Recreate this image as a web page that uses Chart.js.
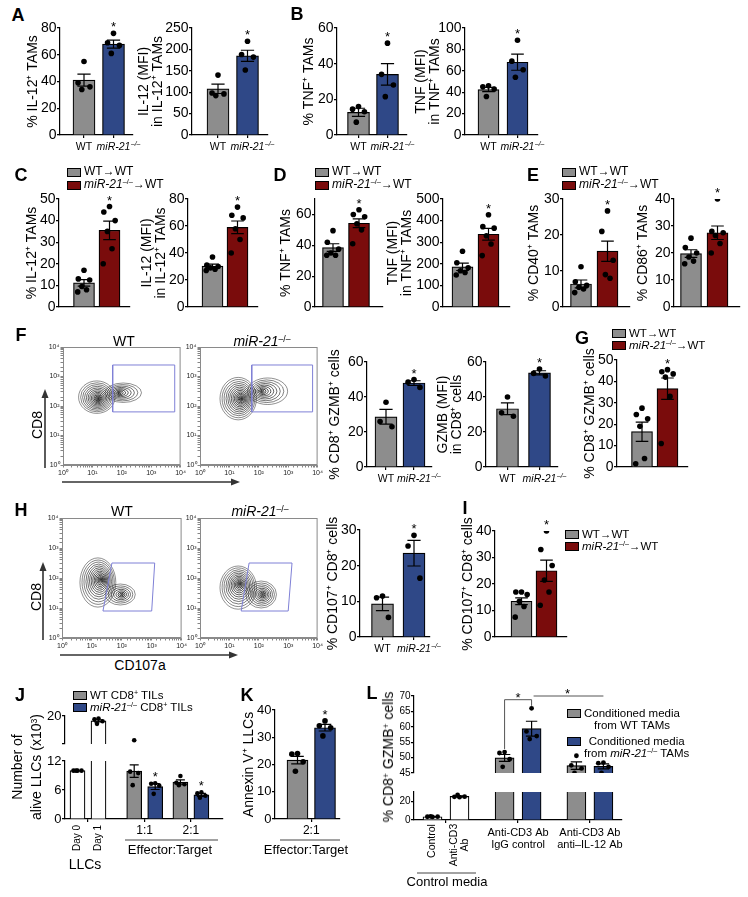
<!DOCTYPE html>
<html>
<head>
<meta charset="utf-8">
<title>miR-21 TAM figure</title>
<script src="https://cdn.jsdelivr.net/npm/chart.js@4.4.1/dist/chart.umd.min.js"></script>
<style>
  html, body { margin: 0; padding: 0; background: #fff; }
  #fig { position: relative; width: 748px; height: 897px; overflow: hidden; font-family: 'Liberation Sans', Arial, sans-serif; color: #000; }
  #fig canvas { position: absolute; }
  .tx { position: absolute; white-space: nowrap; line-height: 1.15; transform: translate(-50%, -50%); text-align: center; }
  .tx.rot { transform: translate(-50%, -50%) rotate(-90deg); }
  .letter { font-weight: bold; font-size: 18px; }
  .sp { font-size: 0.62em; vertical-align: 0.5em; line-height: 0; }
  .leg { position: absolute; white-space: nowrap; line-height: 1.1; }
  .leg .sw { position: absolute; left: 0; top: -4.5px; width: 14px; height: 9px; box-sizing: border-box; border: 1px solid #000; }
  .leg .lt { position: absolute; left: 17px; top: -0.56em; text-align: center; }
  svg { position: absolute; left: 0; top: 0; }
</style>
</head>
<body>
<div id="fig"></div>
<script>
const FONT = "'Liberation Sans', Arial, Helvetica, sans-serif";
Chart.defaults.font.family = FONT;
Chart.defaults.color = '#000';

const GRAY = '#8d8d8d';
const BLUE = '#2f4887';
const RED = '#7a0c0c';
const WHITE = '#ffffff';

// ---------- data ----------
const genotypes = ['WT', 'miR-21'];   // second label gets a "–/–" superscript

// A
const a1Ticks = [0, 20, 40, 60, 80];
const a1Mean = [41, 68];
const a1Sem = [4.5, 3];
const a1Pts = [[55, 39, 36, 34], [76, 69, 67, 61]];

const a2Ticks = [0, 50, 100, 150, 200, 250];
const a2Mean = [108, 185];
const a2Sem = [11, 13];
const a2Pts = [[140, 98, 96, 92], [219, 188, 182, 152]];

// B
const b1Ticks = [0, 20, 40, 60];
const b1Mean = [12.7, 34];
const b1Sem = [2.3, 6];
const b1Pts = [[16, 14.5, 13, 7.2], [51.5, 34, 28, 21.5]];

const b2Ticks = [0, 20, 40, 60, 80, 100];
const b2Mean = [42.5, 68];
const b2Sem = [2, 7.5];
const b2Pts = [[46, 45, 43, 36], [88.5, 69, 61, 54]];

// C
const c1Ticks = [0, 10, 20, 30, 40, 50];
const c1Mean = [11.2, 35.5];
const c1Sem = [1.5, 4.3];
const c1Pts = [[17, 13, 12.5, 9.5, 8, 7], [46.5, 44, 40, 35, 27, 20]];

const c2Ticks = [0, 20, 40, 60, 80];
const c2Mean = [30.3, 59];
const c2Sem = [1.5, 4.7];
const c2Pts = [[37, 31, 30, 29, 28, 27], [74, 68, 66, 58, 50, 40]];

// D
const d1Ticks = [0, 10, 20, 30, 40, 50, 60, 70];
const d1Mean = [38.5, 54.3];
const d1Sem = [2.5, 2.8];
const d1Pts = [[49.5, 42, 37.5, 35, 33.5, 33.5], [63, 60, 58.5, 54, 50, 41]];

const d2Ticks = [0, 100, 200, 300, 400, 500];
const d2Mean = [186, 337];
const d2Sem = [17, 27];
const d2Pts = [[258, 205, 182, 168, 160, 148], [427, 372, 365, 330, 292, 238]];

// E
const e1Ticks = [0, 10, 20, 30];
const e1Mean = [6.4, 15.5];
const e1Sem = [1.1, 2.8];
const e1Pts = [[11.2, 7, 6, 5.5, 5, 4], [26.7, 21, 13, 9, 8]];

const e2Ticks = [0, 10, 20, 30, 40];
const e2Mean = [19.8, 27.5];
const e2Sem = [1.4, 2.5];
const e2Pts = [[25.5, 22, 20, 18.5, 17, 16], [40, 28, 27.5, 26.5, 23.5, 20]];

// F / H flow plots, all in log10 units
const flowDecades = ['10⁰', '10¹', '10²', '10³', '10⁴'];
const fGateWT = [[1.69, 1.8], [3.8, 1.8], [3.8, 3.39], [1.69, 3.39]];
const fGateKO = [[1.76, 1.8], [3.83, 1.8], [3.83, 3.39], [1.76, 3.39]];
const hGateWT = [[1.37, 0.9], [3.0, 0.9], [3.1, 2.5], [1.67, 2.5]];
const hGateKO = [[1.4, 0.9], [3.0, 0.9], [3.13, 2.5], [1.67, 2.5]];
// [centre x, centre y, half width, half height, levels, core shift x, core shift y]
const fBlobsWT = [[1.15, 2.3, 0.62, 0.55, 14, 0.05, -0.05], [2.05, 2.45, 0.62, 0.33, 9, -0.15, 0]];
const fBlobsKO = [[1.3, 2.25, 0.62, 0.72, 15, 0.1, 0], [2.3, 2.5, 0.68, 0.45, 10, -0.2, 0]];
const hBlobsWT = [[1.2, 1.85, 0.6, 0.82, 15, 0.1, 0.1], [1.95, 1.45, 0.5, 0.35, 8, 0.05, 0]];
const hBlobsKO = [[1.3, 1.68, 0.62, 0.72, 14, 0.05, 0.12], [2.08, 1.45, 0.52, 0.45, 10, 0.05, 0]];

const f3Ticks = [0, 20, 40, 60];
const f3Mean = [28.7, 48];
const f3Sem = [4.2, 1.3];
const f3Pts = [[37, 26, 23], [50, 48.5, 45.5]];

const f4Ticks = [0, 20, 40, 60];
const f4Mean = [33.3, 53.8];
const f4Sem = [3.4, 1.2];
const f4Pts = [[40, 31, 29], [56, 53.5, 52]];

const gTicks = [0, 10, 20, 30, 40, 50];
const gMean = [16.5, 36.6];
const gSem = [4.5, 5];
const gPts = [[27.5, 24.5, 22.5, 19, 4, 1.5], [45.5, 44.5, 43.5, 42, 33, 11]];

const hTicks = [0, 10, 20, 30];
const hMean = [9.3, 23.5];
const hSem = [1.9, 3.6];
const hPts = [[11.5, 11, 5.5], [28.5, 25.5, 16.5]];

const iTicks = [0, 10, 20, 30, 40];
const iMean = [13.5, 25];
const iSem = [1.3, 4];
const iPts = [[17, 17, 16, 13.5, 11.5, 7.5], [40, 33, 27, 21.5, 17, 12]];

// J: LLC killing (x10^3), Day 0, Day 1, 1:1 WT/KO, 2:1 WT/KO
const jLabels = ['Day 0', 'Day 1', '1:1', '2:1'];
const jLowTicks = [0, 3, 6, 9, 12];
const jHighTicks = [15, 20];
const jBreak = 12.5;
const jMean = [10, 18.7, 9.9, 6.7, 7.65, 5.0];
const jSem = [0, 0.3, 1.3, 0.6, 0.45, 0.3];
const jPts = [[10, 10, 10, 10], [19.3, 19.1, 18.6, 17.9], [13.5, 9.8, 9.5, 7], [7.4, 7.3, 6.9, 5.2], [8.9, 7.5, 7.2, 7], [5.5, 5.3, 4.8, 4.4]];

// K
const kTicks = [0, 10, 20, 30, 40];
const kMean = [21.6, 33.5];
const kSem = [1.4, 1.2];
const kPts = [[24, 23.8, 21, 17.5], [36, 34.2, 33.5, 30.5]];

// L
const lLowTicks = [0, 10, 20, 30];
const lHighTicks = [45, 50, 55, 60, 65, 70];
const lMean = [3.5, 25.3, 49.9, 59.4, 47.4, 47.15];
const lSem = [0.15, 0.5, 1.1, 2.4, 1.2, 0.8];
const lPts = [[3.3, 3.5, 3.6, 3.9], [24.5, 24.8, 25, 26.8], [51.8, 51.5, 49.5, 47], [66, 58.5, 57, 56], [50.6, 47.5, 46.5, 45], [48.4, 48.2, 47, 45]];
const lSig = [[2, 3, 68.8, true], [3, 5, 70, false]];

// ---------- drawing helpers ----------
const fig = document.getElementById('fig');
const JIT = [0, -0.27, 0.27, -0.1, 0.12, -0.3];
const TITLE = 14;

function canvasAt(x0, y0, x1, y1) {
  const cv = document.createElement('canvas');
  cv.width = Math.round(x1 - x0);
  cv.height = Math.round(y1 - y0);
  cv.style.left = x0 + 'px';
  cv.style.top = y0 + 'px';
  fig.appendChild(cv);
  return cv;
}

function barMarks(p, xs) {
  return {
    id: 'barMarks',
    afterDatasetsDraw(chart) {
      const { ctx, chartArea: a, scales: { x, y } } = chart;
      const room = p.starRoom === undefined ? 16 : p.starRoom;
      ctx.save();
      ctx.beginPath();
      ctx.rect(a.left - 30, a.top - room, a.right - a.left + 60, a.bottom - a.top + room);
      ctx.clip();
      ctx.strokeStyle = '#000';
      ctx.lineWidth = 1.2;
      p.mean.forEach((m, i) => {
        const s = p.sem[i];
        if (!s) return;
        const cx = x.getPixelForValue(xs[i]);
        const hw = p.bw * 0.3;
        const hi = y.getPixelForValue(m + s), lo = y.getPixelForValue(m - s);
        ctx.beginPath();
        ctx.moveTo(cx, hi); ctx.lineTo(cx, lo);
        ctx.moveTo(cx - hw, hi); ctx.lineTo(cx + hw, hi);
        ctx.moveTo(cx - hw, lo); ctx.lineTo(cx + hw, lo);
        ctx.stroke();
      });
      ctx.fillStyle = '#000';
      ctx.textAlign = 'center';
      ctx.textBaseline = 'alphabetic';
      ctx.font = '13px ' + FONT;
      (p.stars || []).forEach(i => {
        const top = Math.max(p.mean[i] + p.sem[i], ...p.pts[i]);
        ctx.fillText('*', x.getPixelForValue(xs[i]), y.getPixelForValue(top) - 2);
      });
      (p.sig || []).forEach(([i, j, level, legs]) => {
        const xi = x.getPixelForValue(xs[i]), xj = x.getPixelForValue(xs[j]);
        const py = y.getPixelForValue(level);
        ctx.strokeStyle = '#555';
        ctx.lineWidth = 1;
        ctx.beginPath();
        if (legs) {
          ctx.moveTo(xi, y.getPixelForValue(Math.max(...p.pts[i]) + 1));
          ctx.lineTo(xi, py); ctx.lineTo(xj, py);
          ctx.lineTo(xj, y.getPixelForValue(Math.max(...p.pts[j]) + 0.8));
        } else {
          ctx.moveTo(xi + 2, py); ctx.lineTo(xj, py);
        }
        ctx.stroke();
        ctx.fillText('*', (xi + xj) / 2, py + 2);
      });
      ctx.restore();
    },
    afterDraw(chart) {
      // category labels under the x axis (some rotated, some with a superscript)
      const { ctx, chartArea: a, scales: { x } } = chart;
      (p.catText || []).forEach(c => {
        const size = c.size || 11;
        const lh = size * 1.1;
        ctx.save();
        ctx.fillStyle = '#000';
        ctx.font = (c.italic ? 'italic ' : '') + size + 'px ' + FONT;
        ctx.textAlign = 'center';
        ctx.textBaseline = 'middle';
        const cx = x.getPixelForValue(c.at), cy = a.bottom + c.dy;
        c.lines.forEach((line, k) => {
          if (c.rot) {
            const off = (k - (c.lines.length - 1) / 2) * lh;
            ctx.save();
            ctx.translate(cx + off, cy);
            ctx.rotate(-Math.PI / 2);
            ctx.fillText(line, 0, 0);
            ctx.restore();
          } else {
            ctx.fillText(line, cx, cy + k * lh);
          }
        });
        if (c.sup) {
          const w = ctx.measureText(c.lines[0]).width;
          ctx.font = (c.italic ? 'italic ' : '') + (size * 0.65) + 'px ' + FONT;
          ctx.textAlign = 'left';
          ctx.fillText(c.sup, cx + w / 2 + 0.5, cy - size * 0.3);
        }
        ctx.restore();
      });
    }
  };
}

function bars(p) {
  const [l, t, r, b] = p.plot;
  const xs = p.xPos || [0, 1];
  const titleLines = p.title || [];
  const x0 = Math.round(p.x0 !== undefined ? p.x0 : p.titleX - titleLines.length * TITLE / 2);
  const y0 = t - 16;
  const hasX = p.xAxis !== false;
  const y1 = hasX ? b + (p.xHeight || 24) : b + 8;
  const x1 = r + 28;
  const cv = canvasAt(x0, y0, x1, y1);
  const dots = [];
  p.pts.forEach((g, i) => g.forEach((v, k) => dots.push({ x: xs[i] + JIT[k] * p.bw / p.dx, y: v })));
  const yTicks = p.yMin !== undefined ? [p.yMin].concat(p.ticks) : p.ticks;
  new Chart(cv, {
    type: 'bar',
    data: {
      datasets: [
        { type: 'bar', data: p.mean.map((m, i) => ({ x: xs[i], y: m })), backgroundColor: p.colors,
          borderColor: '#000', borderWidth: 1.2, barThickness: p.bw, order: 2 },
        { type: 'scatter', data: dots, pointRadius: p.dot || 2.8, pointBackgroundColor: '#000',
          pointBorderWidth: 0, order: 1 }
      ]
    },
    options: {
      responsive: false, animation: false, events: [],
      layout: { padding: { top: t - y0, right: x1 - r, left: 0, bottom: hasX ? 0 : y1 - b } },
      plugins: { legend: { display: false }, tooltip: { enabled: false } },
      scales: {
        x: {
          type: 'linear', display: hasX, offset: false,
          min: (l - p.c0) / p.dx, max: (r - p.c0) / p.dx,
          afterBuildTicks: s => { s.ticks = (p.xTicks || xs).map(v => ({ value: v })); },
          afterFit: s => { s.height = y1 - b; },
          grid: { offset: false, drawOnChartArea: false, drawTicks: p.xMarks !== false, tickLength: 3, color: '#000', lineWidth: 1.2 },
          border: { color: '#000', width: 1.2 },
          ticks: { display: false }
        },
        y: {
          min: yTicks[0], max: yTicks[yTicks.length - 1],
          afterBuildTicks: s => { s.ticks = yTicks.map(v => ({ value: v })); },
          afterFit: s => { s.width = l - x0; },
          grid: { drawOnChartArea: false, tickLength: 3, color: '#000', lineWidth: 1.2 },
          border: { color: '#000', width: 1.2 },
          ticks: { padding: 0.5, color: '#000', font: { family: FONT, size: p.tickSize || 14 },
                   callback: v => p.ticks.includes(v) ? String(v) : '' },
          title: { display: titleLines.length > 0, text: titleLines, padding: 0, color: '#000',
                   font: { family: FONT, size: p.titleSize || TITLE, lineHeight: 1.0 } }
        }
      }
    },
    plugins: [barMarks(p, xs)]
  });
}

function contours(blobs) {
  return {
    id: 'contours',
    beforeDatasetsDraw(chart) {
      const { ctx, scales: { x, y } } = chart;
      ctx.save();
      ctx.lineWidth = 0.8;
      blobs.forEach(([cx, cy, rx, ry, n, sx, sy]) => {
        for (let k = n; k >= 1; k--) {
          const f = Math.pow(k / n, 1.5);
          const ex = cx + (1 - f) * sx, ey = cy + (1 - f) * sy;
          const px = x.getPixelForValue(Math.pow(10, ex)), py = y.getPixelForValue(Math.pow(10, ey));
          const ax = x.getPixelForValue(Math.pow(10, ex + rx * f)) - px;
          const ay = py - y.getPixelForValue(Math.pow(10, ey + ry * f));
          ctx.strokeStyle = 'rgba(0,0,0,' + (0.55 + 0.45 * (1 - f)) + ')';
          ctx.beginPath();
          ctx.ellipse(px, py, ax, ay, 0, 0, Math.PI * 2);
          ctx.stroke();
        }
      });
      ctx.restore();
    },
    afterDraw(chart) {
      const { ctx, chartArea: a } = chart;
      ctx.save();
      ctx.strokeStyle = '#8a8a8a';
      ctx.lineWidth = 1;
      ctx.strokeRect(a.left + 0.5, a.top + 0.5, a.right - a.left - 1, a.bottom - a.top - 1);
      ctx.restore();
    }
  };
}

function flow(p) {
  const [l, t, r, b] = p.plot;
  const x0 = l - 19, y0 = t - 7, x1 = r + 6, y1 = b + 15;
  const cv = canvasAt(x0, y0, x1, y1);
  const axis = isX => ({
    type: 'logarithmic', min: 1, max: 10000,
    afterFit: s => { if (isX) s.height = y1 - b; else s.width = l - x0; },
    grid: { drawOnChartArea: false, tickLength: 2.5, color: '#666', lineWidth: 0.8 },
    border: { color: '#8a8a8a', width: 1 },
    ticks: {
      autoSkip: false, maxRotation: 0, minRotation: 0, padding: 1, color: '#222',
      font: { family: FONT, size: 7 },
      callback: v => {
        const e = Math.log10(v);
        return Math.abs(e - Math.round(e)) < 1e-6 ? flowDecades[Math.round(e)] : '';
      }
    }
  });
  const gate = p.gate.concat([p.gate[0]]).map(([gx, gy]) => ({ x: Math.pow(10, gx), y: Math.pow(10, gy) }));
  new Chart(cv, {
    type: 'scatter',
    data: { datasets: [{ data: gate, showLine: true, borderColor: '#7f80d6', borderWidth: 1, pointRadius: 0, fill: false }] },
    options: {
      responsive: false, animation: false, events: [],
      layout: { padding: { top: t - y0, right: x1 - r, left: 0, bottom: 0 } },
      plugins: { legend: { display: false }, tooltip: { enabled: false } },
      scales: { x: axis(true), y: axis(false) }
    },
    plugins: [contours(p.blobs)]
  });
}

function text(x, y, html, style, cls) {
  const d = document.createElement('div');
  d.className = 'tx' + (cls ? ' ' + cls : '');
  d.innerHTML = html;
  d.style.left = x + 'px';
  d.style.top = y + 'px';
  if (style) d.style.cssText += ';' + style;
  fig.appendChild(d);
}

function legend(x, y, rows, step, size, lineH) {
  rows.forEach(([color, html], i) => {
    const d = document.createElement('div');
    d.className = 'leg';
    d.style.left = x + 'px';
    d.style.top = (y + i * step) + 'px';
    d.style.fontSize = size + 'px';
    if (lineH) d.style.lineHeight = lineH;
    d.innerHTML = '<span class="sw" style="background:' + color + '"></span><span class="lt">' + html + '</span>';
    fig.appendChild(d);
  });
}

// ---------- panels ----------
const genoText = [
  { at: 0, lines: [genotypes[0]], dy: 12, size: 10.5 },
  { at: 1, lines: [genotypes[1]], sup: '–/–', italic: true, dy: 12, size: 10.5 }
];
const geno = { catText: genoText };
const noX = { xMarks: false, xHeight: 22 };

bars({ ...geno, plot: [60, 28, 133, 135], c0: 84, dx: 29.5, bw: 22, ticks: a1Ticks, mean: a1Mean, sem: a1Sem, pts: a1Pts,
  colors: [GRAY, BLUE], title: ['% IL-12⁺ TAMs'], titleX: 33, stars: [1] });
bars({ ...geno, plot: [192, 28, 268, 135], c0: 218, dx: 29.5, bw: 22, ticks: a2Ticks, mean: a2Mean, sem: a2Sem, pts: a2Pts,
  colors: [GRAY, BLUE], title: ['IL-12 (MFI)', 'in IL-12⁺ TAMs'], titleX: 151, stars: [1] });
bars({ ...geno, plot: [337, 28, 407, 135], c0: 358.5, dx: 29, bw: 22, ticks: b1Ticks, mean: b1Mean, sem: b1Sem, pts: b1Pts,
  colors: [GRAY, BLUE], title: ['% TNF⁺ TAMs'], titleX: 309, stars: [1] });
bars({ ...geno, plot: [465, 28, 538, 135], c0: 488.5, dx: 29, bw: 21, ticks: b2Ticks, mean: b2Mean, sem: b2Sem, pts: b2Pts,
  colors: [GRAY, BLUE], title: ['TNF (MFI)', 'in TNF⁺ TAMs'], titleX: 428, stars: [1] });

bars({ ...noX, plot: [59, 199, 130, 307], c0: 84, dx: 25.5, bw: 21, ticks: c1Ticks, mean: c1Mean, sem: c1Sem, pts: c1Pts,
  colors: [GRAY, RED], title: ['% IL-12⁺ TAMs'], titleX: 32, stars: [1] });
bars({ ...noX, plot: [188, 199, 258, 307], c0: 212.5, dx: 25, bw: 21, ticks: c2Ticks, mean: c2Mean, sem: c2Sem, pts: c2Pts,
  colors: [GRAY, RED], title: ['IL-12 (MFI)', 'in IL-12⁺ TAMs'], titleX: 154, stars: [1] });
bars({ ...noX, plot: [315, 199, 383, 307], c0: 333, dx: 26, bw: 21, ticks: d1Ticks, mean: d1Mean, sem: d1Sem, pts: d1Pts,
  colors: [GRAY, RED], title: ['% TNF⁺ TAMs'], titleX: 286, stars: [1] });
bars({ ...noX, plot: [443, 199, 510, 307], c0: 462.5, dx: 26, bw: 21, ticks: d2Ticks, mean: d2Mean, sem: d2Sem, pts: d2Pts,
  colors: [GRAY, RED], title: ['TNF (MFI)', 'in TNF⁺ TAMs'], titleX: 400, stars: [1] });
bars({ ...noX, plot: [563, 199, 630, 307], c0: 581, dx: 26.5, bw: 21, ticks: e1Ticks, mean: e1Mean, sem: e1Sem, pts: e1Pts,
  colors: [GRAY, RED], title: ['% CD40⁺ TAMs'], titleX: 534, stars: [1] });
bars({ ...noX, plot: [674, 199, 740, 307], c0: 691, dx: 26.5, bw: 21, ticks: e2Ticks, mean: e2Mean, sem: e2Sem, pts: e2Pts,
  colors: [GRAY, RED], title: ['% CD86⁺ TAMs'], titleX: 643, stars: [1] });

flow({ plot: [63, 347, 181, 465], gate: fGateWT, blobs: fBlobsWT });
flow({ plot: [200, 347, 318, 465], gate: fGateKO, blobs: fBlobsKO });
bars({ ...geno, plot: [367, 362, 432, 467], c0: 386, dx: 28, bw: 22, ticks: f3Ticks, mean: f3Mean, sem: f3Sem, pts: f3Pts,
  colors: [GRAY, BLUE], title: ['% CD8⁺ GZMB⁺ cells'], titleX: 335, stars: [1] });
bars({ ...geno, plot: [486, 362, 558, 467], c0: 507.5, dx: 32, bw: 22, ticks: f4Ticks, mean: f4Mean, sem: f4Sem, pts: f4Pts,
  colors: [GRAY, BLUE], title: ['GZMB (MFI)', 'in CD8⁺ cells'], titleX: 450, stars: [1] });
bars({ ...noX, plot: [617, 360, 688, 467], c0: 642, dx: 25.5, bw: 21, ticks: gTicks, mean: gMean, sem: gSem, pts: gPts,
  colors: [GRAY, RED], title: ['% CD8⁺ GZMB⁺ cells'], titleX: 590, stars: [1] });

flow({ plot: [62, 518, 182, 638], gate: hGateWT, blobs: hBlobsWT });
flow({ plot: [200, 518, 318, 638], gate: hGateKO, blobs: hBlobsKO });
bars({ ...geno, plot: [360, 530, 430, 637], c0: 382.5, dx: 31.5, bw: 22, ticks: hTicks, mean: hMean, sem: hSem, pts: hPts,
  colors: [GRAY, BLUE], title: ['% CD107⁺ CD8⁺ cells'], titleX: 333, stars: [1] });
bars({ ...noX, plot: [495, 531, 567, 637], c0: 521.5, dx: 25, bw: 21, ticks: iTicks, mean: iMean, sem: iSem, pts: iPts,
  colors: [GRAY, RED], title: ['% CD107⁺ CD8⁺ cells'], titleX: 468, stars: [1] });

// J: broken y axis, drawn as two stacked charts sharing one x layout
const jLayout = { c0: 77.5, dx: 21, bw: 15, xPos: [0, 1, 2.7, 3.7, 4.9, 5.9], dot: 2.3, starRoom: 0, x0: 45, tickSize: 13,
  mean: jMean, sem: jSem, pts: jPts, colors: [WHITE, WHITE, GRAY, BLUE, GRAY, BLUE] };
bars({ ...jLayout, plot: [65, 716, 223, 752], ticks: jHighTicks, yMin: jBreak, xAxis: false });
bars({ ...jLayout, plot: [65, 761, 223, 819], ticks: jLowTicks, stars: [3, 5], xHeight: 52, xTicks: [0.5, 3.2, 5.4],
  catText: [
    { at: 0, lines: [jLabels[0]], rot: true, dy: 19, size: 10 },
    { at: 1, lines: [jLabels[1]], rot: true, dy: 19, size: 10 },
    { at: 3.2, lines: [jLabels[2]], dy: 12, size: 12 },
    { at: 5.4, lines: [jLabels[3]], dy: 12, size: 12 }
  ] });

bars({ plot: [275, 710, 340, 819], c0: 297.5, dx: 27.5, bw: 21, ticks: kTicks, mean: kMean, sem: kSem, pts: kPts, tickSize: 13,
  colors: [GRAY, BLUE], title: ['Annexin V⁺ LLCs'], titleX: 249, stars: [1], xTicks: [0.5],
  catText: [{ at: 0.5, lines: ['2:1'], dy: 12, size: 12 }] });

const lLayout = { c0: 432.5, dx: 27, bw: 19, xPos: [0, 1, 2.67, 3.67, 5.33, 6.33], dot: 2.4, x0: 394, tickSize: 10,
  mean: lMean, sem: lSem, pts: lPts, colors: [WHITE, WHITE, GRAY, BLUE, GRAY, BLUE] };
bars({ ...lLayout, plot: [414, 696, 622, 781], ticks: lHighTicks, xAxis: false, sig: lSig });
bars({ ...lLayout, plot: [414, 792, 622, 820], ticks: lLowTicks, starRoom: 0, xHeight: 52, xTicks: [0.5, 3.17, 5.83],
  catText: [
    { at: 0, lines: ['Control'], rot: true, dy: 21, size: 10.5 },
    { at: 1, lines: ['Anti-CD3', 'Ab'], rot: true, dy: 25, size: 10.5 },
    { at: 3.17, lines: ['Anti-CD3 Ab', 'IgG control'], dy: 13, size: 11 },
    { at: 5.83, lines: ['Anti-CD3 Ab', 'anti–IL-12 Ab'], dy: 13, size: 11 }
  ] });

// ---------- text, legends, arrows ----------
const mir = '<i>miR-21</i><span class="sp">–/–</span>';
const sup = s => '<span class="sp">' + s + '</span>';

[['A', 18, 15], ['B', 297, 14], ['C', 21, 175], ['D', 280, 175], ['E', 533, 175], ['F', 21, 335],
 ['G', 582, 338], ['H', 21, 510], ['I', 465, 508], ['J', 20, 695], ['K', 247, 695], ['L', 372, 693]]
  .forEach(([s, x, y]) => text(x, y, s, '', 'letter'));

legend(67, 172, [[GRAY, 'WT→WT'], [RED, mir + '→WT']], 13, 12);
legend(315, 172, [[GRAY, 'WT→WT'], [RED, mir + '→WT']], 13, 12);
legend(562, 172, [[GRAY, 'WT→WT'], [RED, mir + '→WT']], 13, 12);
legend(612, 333, [[GRAY, 'WT→WT'], [RED, mir + '→WT']], 12.5, 11.5);
legend(565, 534, [[GRAY, 'WT→WT'], [RED, mir + '→WT']], 12.5, 11.5);
legend(73, 695, [[GRAY, 'WT CD8' + sup('+') + ' TILs'], [BLUE, mir + ' CD8' + sup('+') + ' TILs']], 12.5, 11.5);
legend(567, 713, [[GRAY, 'Conditioned media<br>from WT TAMs'], [BLUE, 'Conditioned media<br>from ' + mir + ' TAMs']], 28, 11.5, '1.05');

text(124, 341, 'WT', 'font-size:14px');
text(262, 341, mir, 'font-size:14px');
text(122, 511, 'WT', 'font-size:14px');
text(260, 511, mir, 'font-size:14px');
text(37, 425, 'CD8', 'font-size:14px', 'rot');
text(36, 597, 'CD8', 'font-size:14px', 'rot');
text(140, 665, 'CD107a', 'font-size:14px');

text(27, 767, 'Number of<br>alive LLCs (x10' + sup('3') + ')', 'font-size:14px;line-height:19px', 'rot');
text(388, 757, '% CD8' + sup('+') + ' GZMB' + sup('+') + ' cells', 'font-size:14px', 'rot');
text(170, 850, 'Effector:Target', 'font-size:13px');
text(85, 864, 'LLCs', 'font-size:14px');
text(306, 850, 'Effector:Target', 'font-size:13px');
text(447, 882, 'Control media', 'font-size:13px');

fig.insertAdjacentHTML('beforeend',
  '<svg width="748" height="897" viewBox="0 0 748 897">' +
  '<g stroke="#333" stroke-width="1.6" fill="#333">' +
  '<line x1="45" y1="468" x2="45" y2="396"/><polygon stroke="none" points="45,389 41.5,398 48.5,398"/>' +
  '<line x1="62" y1="482" x2="232" y2="482"/><polygon stroke="none" points="240,482 231,478.5 231,485.5"/>' +
  '<line x1="43" y1="640" x2="43" y2="570"/><polygon stroke="none" points="43,562 39.5,571 46.5,571"/>' +
  '<line x1="60" y1="655" x2="230" y2="655"/><polygon stroke="none" points="238,655 229,651.5 229,658.5"/>' +
  '</g><g stroke="#444" stroke-width="1">' +
  '<line x1="125" y1="840" x2="218" y2="840"/>' +
  '<line x1="280" y1="840" x2="340" y2="840"/>' +
  '<line x1="417" y1="873" x2="476" y2="873"/>' +
  '</g></svg>');
</script>
</body>
</html>
